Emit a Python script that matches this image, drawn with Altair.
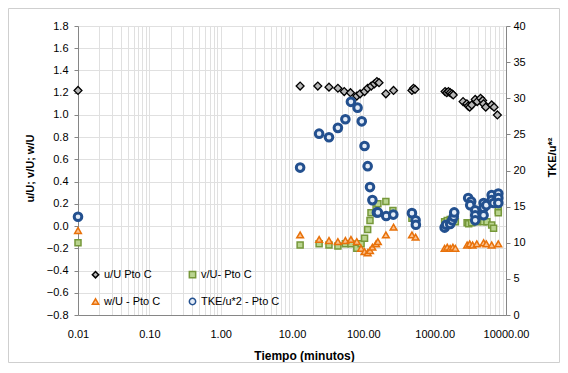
import altair as alt
import pandas as pd

SERIES = ["u/U Pto C", "v/U- Pto C", "w/U - Pto C", "TKE/u*2 - Pto C"]

u_t = [0.01, 13, 23, 33, 44, 54, 66, 81, 90, 104, 115, 129, 143, 155, 166, 207, 265,
       480, 505, 530, 1400, 1480, 1560, 1650, 1750, 1820, 2500, 2830, 2950, 3100, 3310,
       3700, 3950, 4400, 4700, 4840, 5200, 6300, 6800, 7570]
u_val = [1.22, 1.26, 1.26, 1.25, 1.24, 1.21, 1.20, 1.17, 1.19, 1.21, 1.24, 1.26, 1.28, 1.30,
         1.29, 1.19, 1.22, 1.22, 1.24, 1.23, 1.21, 1.20, 1.21, 1.20, 1.19, 1.18, 1.12, 1.10,
         1.08, 1.07, 1.09, 1.14, 1.12, 1.15, 1.13, 1.10, 1.07, 1.09, 1.07, 1.00]

v_t = [0.01, 13, 24, 33, 44, 56, 67, 81, 93, 104, 115, 124, 128, 151, 160, 207, 260, 480,
       1380, 1500, 1650, 1800, 1950, 2850, 3000, 3300, 3900, 4850, 5400, 6300, 6700, 7800, 7800]
v_val = [-0.15, -0.17, -0.16, -0.17, -0.18, -0.16, -0.16, -0.20, -0.16, -0.11, -0.03, 0.05,
         0.12, 0.17, 0.20, 0.22, 0.14, 0.07, 0.04, 0.05, 0.06, 0.05, 0.04, 0.03, 0.02, 0.03,
         0.04, 0.04, 0.04, 0.01, -0.02, 0.14, 0.12]

w_t = [0.01, 13, 24, 33, 44, 56, 67, 81, 93, 104, 115, 124, 134, 151, 160, 207, 265, 480,
       540, 1380, 1500, 1650, 1800, 1950, 2850, 3100, 3400, 3900, 4850, 5300, 6300, 7800]
w_val = [-0.04, -0.08, -0.12, -0.13, -0.14, -0.13, -0.12, -0.14, -0.20, -0.23, -0.24, -0.22,
         -0.19, -0.16, -0.14, -0.08, -0.01, -0.08, -0.10, -0.20, -0.19, -0.20, -0.19, -0.20,
         -0.17, -0.16, -0.17, -0.16, -0.15, -0.16, -0.17, -0.16]

tke_t = [0.01, 13, 24, 33, 44, 56, 67, 83, 95, 104, 115, 124, 134, 155, 160, 209, 263, 480,
         540, 545, 1380, 1450, 1650, 1760, 1850, 1880, 2950, 3250, 3150, 3700, 3700, 3700,
         4850, 4850, 4850, 5300, 6300, 6300, 6700, 7800, 7800, 7800]
tke_val = [13.6, 20.4, 25.1, 24.6, 25.9, 27.1, 29.5, 28.7, 26.8, 23.4, 20.6, 17.7, 15.9, 14.2,
           14.2, 13.7, 13.9, 14.1, 13.1, 12.5, 12.1, 12.5, 12.6, 13.1, 13.6, 14.2, 16.2, 15.7,
           15.2, 14.5, 13.8, 13.1, 15.5, 14.8, 13.8, 15.2, 16.6, 15.9, 15.5, 16.8, 16.2, 15.5]

left_ticks = [-0.8, -0.6, -0.4, -0.2, 0.0, 0.2, 0.4, 0.6, 0.8, 1.0, 1.2, 1.4, 1.6, 1.8]
right_ticks = [0, 5, 10, 15, 20, 25, 30, 35, 40]
x_grid = [round(m * 10.0 ** k, 6) for k in range(-2, 4) for m in range(1, 10)] + [10000.0]

STROKES = ["#000000", "#76983a", "#e8710a", "#23508f"]
FILLS = ["#b8b8b8", "#b9d48f", "#fbc08c", "#e4ecf7"]
SHAPES = ["diamond", "square", "triangle-up", "circle"]


def frame(name, ts, vals):
    return pd.DataFrame({"t": ts, "val": vals, "serie": name})


W, H = 428, 289
FONT = "Liberation Sans"
GRID = "#e0e0e0"
AXC = "#868686"

xscale = alt.Scale(type="log", domain=[0.01, 10000], nice=False)

leg = alt.Legend(title=None, orient="none", legendX=12, legendY=243, columns=2,
                 direction="horizontal",
                 columnPadding=25, rowPadding=14, symbolSize=40, symbolStrokeWidth=1.5,
                 labelFontSize=11, labelFont=FONT, labelOffset=3, padding=0,
                 labelColor="#000000")

xaxis = alt.Axis(values=x_grid, grid=True, gridColor=GRID, ticks=False,
                 labelExpr="abs(log(datum.value)/LN10 - round(log(datum.value)/LN10)) < 0.001 ? format(datum.value, '.2f') : ''",
                 labelOverlap=False, labelFlush=False, labelPadding=13, domainColor=AXC,
                 title="Tiempo (minutos)", titleX=226, titleY=40, titleAlign="center",
                 titleBaseline="middle", titleFontWeight="bold", titleFontSize=12)

common_enc = dict(
    fill=alt.Fill("serie:N", scale=alt.Scale(domain=SERIES, range=FILLS), legend=leg),
    stroke=alt.Stroke("serie:N", scale=alt.Scale(domain=SERIES, range=STROKES), legend=leg),
    shape=alt.Shape("serie:N", scale=alt.Scale(domain=SERIES, range=SHAPES), legend=leg),
)

left_y = alt.Y("val:Q", scale=alt.Scale(domain=[-0.8, 1.8], nice=False, zero=False),
               axis=alt.Axis(values=left_ticks, format=".1f", grid=True, gridColor=GRID,
                             domainColor=AXC, tickColor=AXC, tickSize=4, labelPadding=6,
                             title="u/U; v/U; w/U", titleAngle=270, titleX=-48, titleY=142,
                             titleAlign="center", titleBaseline="middle",
                             titleFontWeight="bold", titleFontSize=11))

right_y = alt.Y("val:Q", scale=alt.Scale(domain=[0, 40], nice=False),
                axis=alt.Axis(orient="right", values=right_ticks, grid=False,
                              domainColor=AXC, tickColor=AXC, tickSize=4, labelPadding=3,
                              title="TKE/u*²", titleAngle=270, titleX=46, titleY=131,
                              titleAlign="center", titleBaseline="middle",
                              titleFontWeight="bold", titleFontSize=11))


def pts(df, y, size, sw):
    return alt.Chart(df).mark_point(filled=True, size=size, strokeWidth=sw, opacity=1,
                                    fillOpacity=1).encode(
        x=alt.X("t:Q", scale=xscale, axis=xaxis), y=y, **common_enc)


border = alt.Chart(pd.DataFrame({"a": [0]})).mark_rect(
    fillOpacity=0, stroke="#cfcfcf", strokeWidth=1).encode(
    x=alt.value(-69.5), x2=alt.value(481.5), y=alt.value(-17.5), y2=alt.value(336.5))

left = alt.layer(
    pts(frame(SERIES[0], u_t, u_val), left_y, 62, 1.3),
    pts(frame(SERIES[1], v_t, v_val), left_y, 36, 1.5),
    pts(frame(SERIES[2], w_t, w_val), left_y, 45, 1.5),
)
right = pts(frame(SERIES[3], tke_t, tke_val), right_y, 58, 3)

chart = alt.layer(border, left, right).resolve_scale(y="independent").properties(
    width=W, height=H, autosize=alt.AutoSizeParams(type="none"),
    padding={"left": 70, "top": 18, "right": 54, "bottom": 48},
    background="white",
).configure_view(strokeWidth=0).configure_axis(
    labelFont=FONT, titleFont=FONT, labelFontSize=11, labelColor="#000000",
    titleColor="#000000")

chart.save("out.html", embed_options={"renderer": "svg", "actions": False})
